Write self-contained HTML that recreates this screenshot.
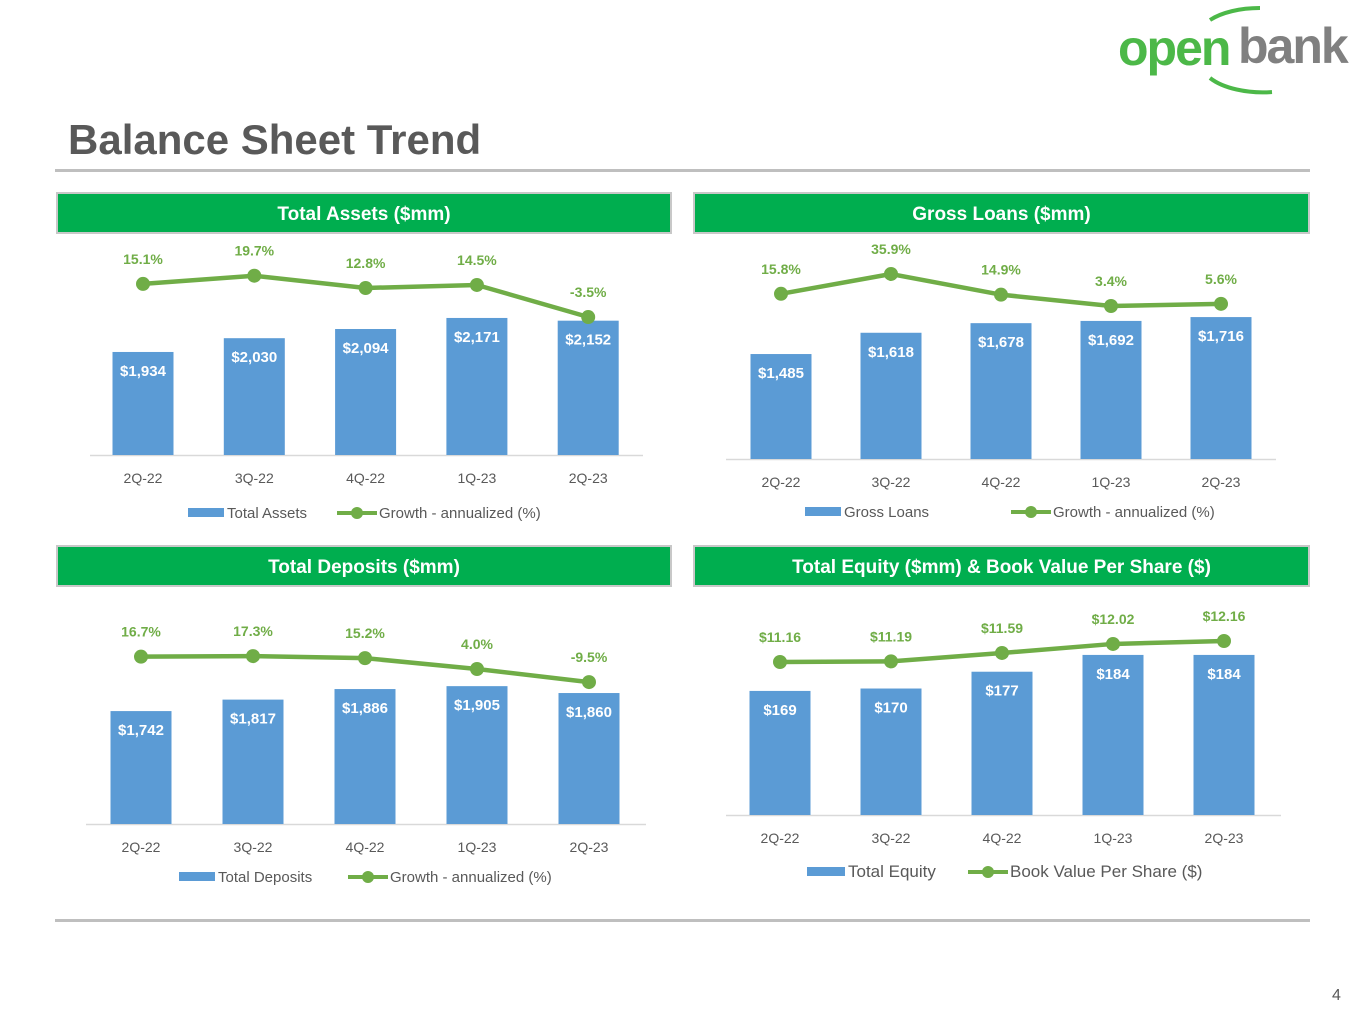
<!DOCTYPE html>
<html><head><meta charset="utf-8">
<style>
body{margin:0;background:#fff;width:1365px;height:1024px;overflow:hidden;position:relative;font-family:"Liberation Sans",Arial,sans-serif}
.hdr{position:absolute;height:38px;background:#00ae4f;border:2px solid #c8c8c8;color:#fff;font-weight:bold;font-size:19px;line-height:42px;text-align:center}
.rule{position:absolute;left:55px;width:1255px;height:3px;background:#bfbfbf}
svg text{font-family:"Liberation Sans",Arial,sans-serif}
</style></head><body>
<svg style="position:absolute;left:1110px;top:0" width="255" height="100">
<path d="M 100 20 A 62 30 0 0 1 150 8" stroke="#4cb848" stroke-width="4" fill="none"/>
<path d="M 100 78 A 62 30 0 0 0 162 92" stroke="#4cb848" stroke-width="4" fill="none"/>
<text x="8" y="65" font-size="50" font-weight="bold" fill="#4cb848" letter-spacing="-2">open</text>
<text x="128" y="63" font-size="50" font-weight="bold" fill="#808080" letter-spacing="-2">bank</text>
</svg>
<div style="position:absolute;left:68px;top:116px;font-size:42px;font-weight:bold;color:#595959">Balance Sheet Trend</div>
<div class="rule" style="top:169px"></div>
<div class="rule" style="top:919px"></div>
<div class="hdr" style="left:56px;top:192px;width:612px">Total Assets ($mm)</div>
<div class="hdr" style="left:693px;top:192px;width:613px">Gross Loans ($mm)</div>
<div class="hdr" style="left:56px;top:545px;width:612px">Total Deposits ($mm)</div>
<div class="hdr" style="left:693px;top:545px;width:613px">Total Equity ($mm) &amp; Book Value Per Share ($)</div>
<div style="position:absolute;left:1332px;top:987px;font-size:16px;color:#595959">4</div>
<svg id="charts" style="position:absolute;left:0;top:0" width="1365" height="1024"></svg>
<script>
const categories=["2Q-22","3Q-22","4Q-22","1Q-23","2Q-23"];
const assetsValues=[1934,2030,2094,2171,2152];
const assetsGrowth=[15.1,19.7,12.8,14.5,-3.5];
const loansValues=[1485,1618,1678,1692,1716];
const loansGrowth=[15.8,35.9,14.9,3.4,5.6];
const depositsValues=[1742,1817,1886,1905,1860];
const depositsGrowth=[16.7,17.3,15.2,4.0,-9.5];
const equityValues=[169,170,177,184,184];
const bvpsValues=[11.16,11.19,11.59,12.02,12.16];

const NS="http://www.w3.org/2000/svg";
const svg=document.getElementById('charts');
function el(tag,attrs,parent){const e=document.createElementNS(NS,tag);for(const k in attrs)e.setAttribute(k,attrs[k]);(parent||svg).appendChild(e);return e;}
function txt(x,y,s,size,fill,bold,parent){const t=el('text',{x:x,y:y,'font-size':size,fill:fill,'text-anchor':'middle','font-weight':bold?'bold':'normal'},parent);t.textContent=s;return t;}

function drawChart(name,bars,line,g,barFmt,lineFmt,barLeg,lineLeg){
  const grp=el('g',{});
  
  
  const xs=i=>g.x0+i*g.dx;
  const yBar=v=>g.base-(v-g.bMin)*g.bK;
  const yLine=v=>g.lRef-(v-g.lRefV)*g.lK;
  const ax=el('line',{x1:g.ax1,x2:g.ax2,y1:g.base+0.5,y2:g.base+0.5,stroke:'#d9d9d9','stroke-width':1.5},grp);
  
  
  bars.forEach((v,i)=>{
    const y=yBar(v);
    const r=el('rect',{x:xs(i)-g.bw/2,y:y,width:g.bw,height:g.base-y,fill:'#5b9bd5'},grp);
    
    
    const l=txt(xs(i),y+24,barFmt(v),15,'#fff',true,grp);
    
    
    const c=txt(xs(i),g.base+28,categories[i],14,'#595959',false,grp);
    
    
  });
  const pts=line.map((v,i)=>xs(i)+','+yLine(v)).join(' ');
  const pl=el('polyline',{points:pts,fill:'none',stroke:'#70ad47','stroke-width':4.5},grp);
  
  
  line.forEach((v,i)=>{
    const y=yLine(v);
    const c=el('circle',{cx:xs(i),cy:y,r:7,fill:'#70ad47'},grp);
    
    
    const l=txt(xs(i),y-g.lOff,lineFmt(v),14,'#70ad47',true,grp);
    
    
  });
  const ly=g.legY;
  const s1=el('rect',{x:g.leg1,y:ly-9,width:g.legW,height:9,fill:'#5b9bd5'},grp);
  
  
  const t1=el('text',{x:g.leg1+g.legW+3,y:ly+1,'font-size':g.legFs,fill:'#595959'},grp);
  t1.textContent=barLeg;
  
  
  el('line',{x1:g.leg2,x2:g.leg2+40,y1:ly-4,y2:ly-4,stroke:'#70ad47','stroke-width':4},grp);
  const s2=el('circle',{cx:g.leg2+20,cy:ly-4,r:6,fill:'#70ad47'},grp);
  
  
  const t2=el('text',{x:g.leg2+42,y:ly+1,'font-size':g.legFs,fill:'#595959'},grp);
  t2.textContent=lineLeg;
  
  
}
const money=v=>'$'+v.toLocaleString('en-US');
const pct=v=>v.toFixed(1)+'%';
const dol2=v=>'$'+v.toFixed(2);

drawChart('total-assets',assetsValues,assetsGrowth,
 {x0:143,dx:111.3,bw:61,base:455,bMin:1216,bK:0.1435,lRef:288,lRefV:12.8,lK:1.78,lOff:20,ax1:90,ax2:643,legY:517,leg1:188,leg2:337,legW:36,legFs:15},
 money,pct,'Total Assets','Growth - annualized (%)');
drawChart('gross-loans',loansValues,loansGrowth,
 {x0:781,dx:110,bw:61,base:459,bMin:829,bK:0.160,lRef:306,lRefV:3.4,lK:0.985,lOff:20,ax1:726,ax2:1276,legY:516,leg1:805,leg2:1011,legW:36,legFs:15},
 money,pct,'Gross Loans','Growth - annualized (%)');
drawChart('total-deposits',depositsValues,depositsGrowth,
 {x0:141,dx:112,bw:61,base:824,bMin:1004,bK:0.153,lRef:669,lRefV:4.0,lK:0.97,lOff:20,ax1:86,ax2:646,legY:881,leg1:179,leg2:348,legW:36,legFs:15},
 money,pct,'Total Deposits','Growth - annualized (%)');
drawChart('total-equity',equityValues,bvpsValues,
 {x0:780,dx:111,bw:61,base:815,bMin:117.3,bK:2.4,lRef:662,lRefV:11.16,lK:21,lOff:20,ax1:726,ax2:1281,legY:876,leg1:807,leg2:968,legW:38,legFs:17},
 money,dol2,'Total Equity','Book Value Per Share ($)');
</script>
</body></html>
